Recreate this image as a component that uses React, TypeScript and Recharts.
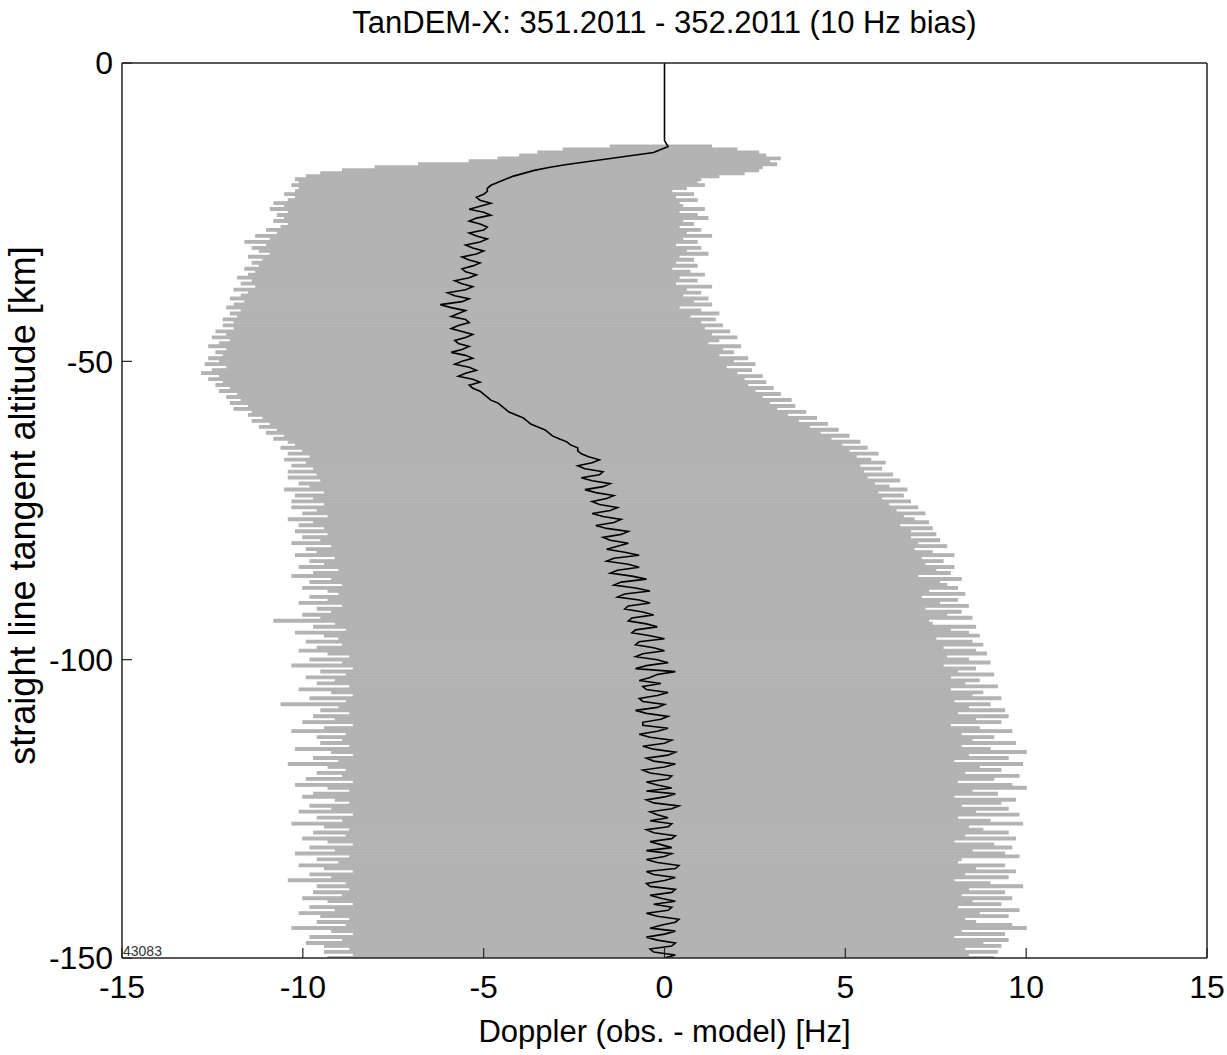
import React from 'react';
import { ComposedChart, Bar, Line, XAxis, YAxis, Label } from 'recharts';

const FONT = '"Liberation Sans", Arial, Helvetica, sans-serif';
const NARROW = '"Liberation Sans Narrow", "Arial Narrow", "Liberation Sans", sans-serif';
const GRAY = '#b3b3b3';
const AXIS = '#222';

const dopplerTicks = [-15, -10, -5, 0, 5, 10, 15];
const altitudeTicks = [0, -50, -100, -150];

// spread of the residuals, sampled every 0.5 km from -14 km to -150 km
const BAND_TOP = -14;
const BAND_STEP = 0.5;

const bandLow = [
  -1.5, -2.8, -3.5, -4.0, -4.6, -5.4, -6.8, -8.0, -8.9, -9.5,
  -9.9, -10.2, -10.1, -10.3, -10.1, -10.2, -10.5, -10.2, -10.4, -10.8,
  -10.5, -10.9, -10.4, -10.7, -10.5, -10.8, -10.4, -10.6, -11.0, -10.7,
  -11.3, -10.9, -11.6, -11.0, -11.4, -11.2, -10.9, -11.5, -11.1, -11.4,
  -11.2, -11.6, -11.3, -11.5, -11.8, -11.4, -11.7, -11.3, -11.9, -11.5,
  -11.7, -12.0, -11.6, -11.9, -12.1, -11.7, -12.0, -11.8, -12.2, -11.9,
  -12.2, -11.9, -12.4, -12.1, -12.5, -12.0, -12.3, -12.6, -12.1, -12.4,
  -12.2, -12.6, -12.3, -12.7, -12.1, -12.5, -12.8, -12.3, -12.6, -12.2,
  -12.4, -12.0, -12.3, -11.8, -12.1, -11.7, -12.0, -11.5, -11.9, -11.4,
  -11.5, -11.1, -11.4, -10.9, -11.2, -10.7, -11.0, -10.5, -10.8, -10.4,
  -10.2, -10.6, -10.0, -10.4, -9.8, -10.5, -9.9, -10.3, -9.7, -10.4,
  -9.6, -10.4, -9.5, -10.1, -9.8, -10.5, -9.4, -10.2, -9.7, -10.3,
  -9.4, -10.3, -9.6, -10.0, -9.3, -10.4, -9.7, -10.1, -9.4, -10.2,
  -9.3, -10.0, -9.5, -10.3, -9.2, -9.9, -9.6, -10.2, -9.1, -9.8,
  -9.4, -10.1, -9.0, -9.7, -10.3, -9.2, -9.8, -8.9, -10.0, -9.3,
  -9.0, -9.8, -9.3, -10.1, -8.9, -9.6, -9.2, -10.0, -9.5, -10.8,
  -9.1, -9.7, -8.8, -10.2, -9.4, -9.0, -9.9, -8.9, -9.6, -10.1,
  -9.3, -8.7, -9.8, -8.9, -10.3, -8.6, -9.5, -8.8, -9.9, -9.1,
  -9.6, -8.7, -10.1, -9.2, -8.6, -9.8, -8.8, -10.6, -9.0, -9.5,
  -8.7, -9.7, -9.1, -10.0, -8.6, -9.4, -10.3, -8.8, -9.6, -8.9,
  -9.5, -8.7, -10.2, -9.2, -8.6, -9.7, -9.0, -10.4, -9.3, -8.8,
  -9.6, -8.9, -9.9, -8.6, -10.2, -9.3, -8.7, -9.7, -10.0, -9.1,
  -8.7, -9.8, -9.2, -10.1, -8.6, -9.6, -8.9, -10.3, -9.4, -8.7,
  -9.7, -8.8, -10.0, -9.3, -8.6, -9.8, -9.1, -10.2, -8.7, -9.6,
  -9.0, -10.1, -9.4, -8.6, -9.8, -9.2, -10.4, -8.8, -9.6, -8.7,
  -9.7, -8.9, -10.0, -9.3, -8.6, -9.8, -9.1, -10.1, -9.5, -8.7,
  -9.6, -8.8, -10.3, -9.2, -8.6, -9.8, -8.9, -9.9, -9.4, -8.7,
  -9.4, -8.6, -9.3,
];

const bandHigh = [
  1.3, 2.0, 2.6, 2.8, 3.2, 2.9, 3.1, 2.7, 2.6, 2.2,
  1.5, 1.0, 0.9, 1.1, 0.6, 0.2, 0.8, 0.3, 0.9, 0.4,
  0.5, 1.1, 0.4, 0.9, 1.2, 0.5, 0.8, 0.4, 1.0, 0.6,
  1.3, 0.5, 0.9, 0.3, 1.0, 0.6, 1.2, 0.4, 0.8, 0.3,
  0.9, 0.2, 0.7, 1.1, 0.4, 0.9, 0.3, 1.3, 0.6, 1.0,
  0.5, 1.2, 0.8, 1.3, 0.4, 1.0, 1.5, 0.7, 1.4, 1.0,
  1.6, 1.1, 1.8, 1.3, 2.0, 1.5, 1.2, 2.1, 1.6, 1.9,
  1.5, 2.3, 1.9, 2.5, 1.7, 2.4, 2.0, 2.7, 2.2, 2.8,
  2.3, 3.0, 2.5, 3.2, 2.7, 3.5, 2.9, 3.6, 3.1, 3.9,
  3.4, 4.2, 3.7, 4.5, 4.0, 4.8, 4.3, 5.1, 4.6, 5.4,
  4.9, 5.6, 5.1, 5.9, 5.3, 5.7, 6.1, 5.4, 6.0, 5.5,
  6.3, 5.6, 6.5, 5.8, 6.2, 6.7, 5.9, 6.6, 6.0, 6.8,
  6.2, 7.0, 6.4, 7.2, 6.6, 6.9, 7.3, 6.5, 7.4, 6.8,
  7.5, 6.8, 7.6, 7.0, 7.8, 6.9, 7.4, 8.0, 7.1, 7.7,
  7.2, 8.0, 7.5, 7.9, 7.0, 8.2, 7.6, 7.8, 8.1, 7.3,
  8.3, 7.1, 8.1, 7.6, 8.4, 7.2, 8.2, 7.8, 8.5, 7.3,
  7.4, 8.6, 7.9, 8.4, 8.7, 7.5, 8.5, 8.8, 7.7, 8.6,
  8.9, 7.8, 8.4, 9.0, 7.7, 8.6, 8.1, 9.1, 7.9, 8.7,
  8.3, 9.2, 7.9, 8.8, 8.5, 9.3, 8.0, 9.0, 8.4, 9.4,
  8.1, 9.5, 8.6, 9.3, 7.9, 8.7, 9.6, 8.2, 9.1, 8.5,
  9.7, 8.2, 9.0, 10.0, 8.4, 9.5, 8.0, 9.9, 8.7, 9.3,
  8.3, 9.8, 9.1, 8.1, 9.6, 10.0, 8.5, 9.2, 8.0, 9.7,
  9.3, 8.2, 9.5, 8.6, 9.8, 8.1, 9.0, 9.9, 8.4, 8.8,
  9.5, 8.3, 9.7, 8.0, 9.1, 9.6, 8.5, 9.4, 9.8, 8.2,
  8.1, 9.4, 8.6, 9.7, 8.3, 9.5, 8.0, 9.0, 9.9, 8.4,
  9.4, 8.2, 9.6, 8.5, 9.3, 8.1, 9.8, 8.7, 9.5, 8.3,
  8.6, 9.6, 10.0, 8.2, 9.4, 8.0, 9.5, 8.8, 9.3, 8.3,
  9.2, 8.4, 9.1,
];

// mean residual: straight at 0 down to -13 km
const meanLeadAlt = [0, -13];
const meanLeadDoppler = [0, 0];

// mean residual at whole km, -14 km to -150 km
const MEAN_TOP = -14;
const meanWholeKm = [
  0.1, -0.3, -1.5, -2.7, -3.6, -4.2, -4.6, -4.9, -5.0, -5.1,
  -5.1, -5.0, -5.2, -5.1, -5.0, -5.2, -5.1, -5.3, -5.2, -5.4,
  -5.3, -5.5, -5.4, -5.6, -5.5, -5.8, -5.6, -5.9, -5.7, -5.5,
  -5.7, -5.6, -5.5, -5.7, -5.6, -5.5, -5.6, -5.4, -5.5, -5.3,
  -5.4, -5.1, -4.9, -4.6, -4.4, -4.1, -3.8, -3.5, -3.2, -2.9,
  -2.6, -2.4, -2.1, -2.0, -2.2, -1.8, -2.0, -1.7, -1.9, -1.6,
  -1.8, -1.5, -1.7, -1.4, -1.6, -1.2, -1.5, -1.3, -1.1, -1.4,
  -1.0, -1.3, -0.9, -1.2, -0.8, -1.1, -0.7, -1.0, -0.6, -0.9,
  -0.5, -0.8, -0.4, -0.7, -0.3, -0.6, -0.2, -0.5, 0.3, -0.4,
  -0.1, -0.5, -0.2, -0.6, -0.2, -0.5, -0.1, -0.6, -0.2, -0.4,
  0.0, -0.3, 0.1, -0.3, 0.0, -0.4, 0.1, -0.2, -0.5, 0.0,
  -0.3, 0.2, -0.2, -0.4, 0.1, -0.3, 0.2, -0.1, -0.5, 0.0,
  -0.2, 0.3, -0.3, 0.0, -0.4, 0.2, -0.1, -0.3, 0.1, -0.2,
  0.3, -0.4, 0.0, -0.2, 0.2, -0.3, 0.0,
];

// mean residual at half km, -14.5 km to -149.5 km
const MEAN_HALF_TOP = -14.5;
const meanHalfKm = [
  -0.1, -0.9, -2.1, -3.2, -3.9, -4.4, -4.8, -4.9, -5.2, -4.8,
  -5.4, -4.8, -5.4, -4.9, -5.4, -4.9, -5.5, -5.0, -5.6, -5.1,
  -5.6, -5.2, -5.8, -5.3, -6.0, -5.4, -6.2, -5.5, -5.9, -5.4,
  -5.9, -5.3, -5.8, -5.4, -5.9, -5.3, -5.8, -5.2, -5.7, -5.1,
  -5.3, -5.0, -4.8, -4.5, -4.3, -3.9, -3.7, -3.3, -3.1, -2.7,
  -2.4, -2.3, -1.8, -2.4, -1.7, -2.3, -1.5, -2.2, -1.4, -2.0,
  -1.3, -2.0, -1.2, -1.9, -1.0, -1.7, -1.0, -1.6, -0.7, -1.6,
  -0.7, -1.5, -0.5, -1.4, -0.4, -1.3, -0.4, -1.1, -0.3, -1.0,
  -0.2, -0.9, 0.0, -0.8, 0.0, -0.8, 0.1, -0.8, -0.2, -0.7,
  -0.6, 0.1, -0.7, 0.0, -0.8, 0.1, -0.6, 0.1, -0.7, 0.2,
  -0.6, 0.3, -0.5, 0.3, -0.6, 0.2, -0.5, 0.2, 0.3, -0.5,
  0.4, -0.4, 0.1, 0.2, -0.5, 0.3, -0.4, 0.2, 0.2, -0.5,
  0.4, -0.5, 0.3, -0.5, 0.3, -0.4, 0.3, 0.2, -0.5, 0.4,
  -0.1, 0.3, -0.5, 0.3, -0.4, 0.3,
];

interface Row {
  alt: number;
  band?: [number, number];
  mean?: number;
}

const buildRows = (): Row[] => {
  const byAlt = new Map<number, Row>();
  const get = (alt: number) => {
    const key = Math.round(alt * 10) / 10;
    if (!byAlt.has(key)) byAlt.set(key, { alt: key });
    return byAlt.get(key)!;
  };
  meanLeadAlt.forEach((a, i) => (get(a).mean = meanLeadDoppler[i]));
  bandLow.forEach((lo, i) => (get(BAND_TOP - i * BAND_STEP).band = [lo, bandHigh[i]]));
  meanWholeKm.forEach((m, i) => (get(MEAN_TOP - i).mean = m));
  meanHalfKm.forEach((m, i) => (get(MEAN_HALF_TOP - i).mean = m));
  return Array.from(byAlt.values()).sort((a, b) => b.alt - a.alt);
};

const rows = buildRows();

const tickStyle = { fontSize: 32, fill: '#000', fontFamily: FONT };

const App: React.FC = () => {
  return (
    <div style={{ position: 'absolute', left: 0, top: 0, width: 1227, height: 1055, background: '#fff' }}>
      <ComposedChart
        layout="vertical"
        width={1227}
        height={1055}
        data={rows}
        margin={{ top: 62, right: 19, bottom: 0, left: 0 }}
      >
        <XAxis
          type="number"
          domain={[-15, 15]}
          ticks={dopplerTicks}
          allowDataOverflow
          height={97}
          tickSize={-10}
          tickMargin={27}
          tick={tickStyle}
          axisLine={{ stroke: AXIS, strokeWidth: 1.5 }}
          tickLine={{ stroke: AXIS, strokeWidth: 1.2 }}
        >
          <Label
            content={({ viewBox }: any) => (
              <g>
                <text
                  x={viewBox.x + viewBox.width / 2}
                  y={viewBox.y + 84}
                  textAnchor="middle"
                  fontSize={31}
                  fontFamily={FONT}
                  fill="#000"
                >
                  Doppler (obs. - model) [Hz]
                </text>
                <text
                  x={viewBox.x + 1}
                  y={viewBox.y - 2}
                  fontSize={14}
                  fontFamily={NARROW}
                  fill="#333"
                >
                  43083
                </text>
              </g>
            )}
          />
        </XAxis>
        <XAxis
          xAxisId="top"
          orientation="top"
          type="number"
          domain={[-15, 15]}
          ticks={dopplerTicks}
          height={1}
          tickSize={-10}
          tick={false}
          axisLine={{ stroke: AXIS, strokeWidth: 1.5 }}
          tickLine={{ stroke: AXIS, strokeWidth: 1.2 }}
        >
          <Label
            content={({ viewBox }: any) => (
              <text
                x={viewBox.x + viewBox.width / 2}
                y={viewBox.y - 29}
                textAnchor="middle"
                fontSize={31}
                fontFamily={FONT}
                fill="#000"
              >
                TanDEM-X: 351.2011 - 352.2011 (10 Hz bias)
              </text>
            )}
          />
        </XAxis>
        <YAxis
          type="number"
          dataKey="alt"
          domain={[-150, 0]}
          ticks={altitudeTicks}
          reversed
          allowDataOverflow
          width={122}
          tickSize={-10}
          tickMargin={19}
          tick={tickStyle}
          axisLine={{ stroke: AXIS, strokeWidth: 1.5 }}
          tickLine={{ stroke: AXIS, strokeWidth: 1.2 }}
        >
          <Label
            content={({ viewBox }: any) => {
              const cx = viewBox.x + 35;
              const cy = viewBox.y + viewBox.height / 2 - 5;
              return (
                <text
                  x={cx}
                  y={cy}
                  transform={`rotate(-90 ${cx} ${cy})`}
                  textAnchor="middle"
                  fontSize={36}
                  fontFamily={FONT}
                  fill="#000"
                >
                  straight line tangent altitude [km]
                </text>
              );
            }}
          />
        </YAxis>
        <YAxis
          yAxisId="right"
          orientation="right"
          type="number"
          dataKey="alt"
          domain={[-150, 0]}
          ticks={altitudeTicks}
          reversed
          width={1}
          tickSize={-10}
          tick={false}
          axisLine={{ stroke: AXIS, strokeWidth: 1.5 }}
          tickLine={{ stroke: AXIS, strokeWidth: 1.2 }}
        />
        <Bar
          dataKey="band"
          fill={GRAY}
          stroke={GRAY}
          strokeWidth={1.2}
          barSize={4}
          isAnimationActive={false}
        />
        <Line
          dataKey="mean"
          stroke="#000"
          strokeWidth={1.6}
          dot={false}
          connectNulls
          isAnimationActive={false}
        />
      </ComposedChart>
    </div>
  );
};

export default App;
